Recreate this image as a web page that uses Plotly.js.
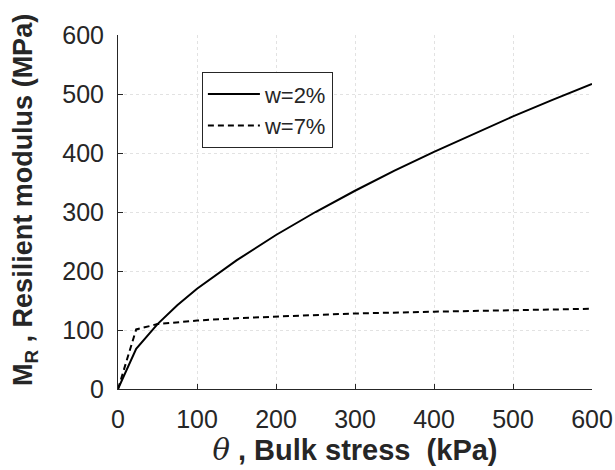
<!DOCTYPE html>
<html>
<head>
<meta charset="utf-8">
<script src="https://cdn.plot.ly/plotly-3.0.1.min.js"></script>
<style>html,body{margin:0;padding:0;background:#fff;}#chart{width:615px;height:470px;}</style>
</head>
<body>
<div id="chart"></div>
<script>
const seriesNames = ["w=2%", "w=7%"];
const thetaW2 = [0, 23, 50, 75, 100, 150, 200, 250, 300, 350, 400, 450, 500, 550, 600];
const modulusW2 = [0, 68, 110, 142, 170, 218, 261, 300, 336, 370, 402, 432, 462, 490, 517];
const thetaW7 = [0, 23, 50, 100, 150, 200, 300, 400, 500, 600];
const modulusW7 = [0, 101, 110, 116, 120, 123, 128, 131, 134, 136];
const xTicks = [0, 100, 200, 300, 400, 500, 600];
const yTicks = [0, 100, 200, 300, 400, 500, 600];
const yTitle = "M<sub>R</sub> , Resilient modulus (MPa)";

const FONT = "Liberation Sans, Arial, sans-serif";

const traces = [
  {x: thetaW2, y: modulusW2, name: seriesNames[0], mode: "lines", type: "scatter",
   line: {color: "#000000", width: 2}},
  {x: thetaW7, y: modulusW7, name: seriesNames[1], mode: "lines", type: "scatter",
   line: {color: "#000000", width: 2, dash: "6px,4px"}}
];

const axisCommon = {
  showline: true, linecolor: "#262626", linewidth: 1,
  ticks: "inside", ticklen: 5, tickcolor: "#262626",
  showgrid: true, gridcolor: "#e2e2e2", griddash: "dot", gridwidth: 1,
  zeroline: false, tickfont: {family: FONT, size: 25, color: "#262626"},
  ticklabelstandoff: 8,
  mirror: false, automargin: false
};

const layout = {
  width: 615, height: 470,
  margin: {l: 118, r: 23, t: 35, b: 81},
  paper_bgcolor: "#ffffff", plot_bgcolor: "#ffffff",
  showlegend: true,
  legend: {x: 0.177, y: 0.895, xanchor: "left", yanchor: "top",
    bgcolor: "#ffffff", bordercolor: "#262626", borderwidth: 1,
    font: {family: FONT, size: 22, color: "#262626"},
    itemwidth: 52, tracegroupgap: 0},
  xaxis: Object.assign({}, axisCommon, {
    range: [0, 600], tickvals: xTicks, ticktext: xTicks.map(String),
    title: {text: "<span style=\"font-family:'DejaVu Serif',serif;font-style:italic;font-weight:normal\">θ</span> , Bulk stress  (kPa)",
      font: {family: FONT, size: 29, color: "#262626", weight: "bold"}, standoff: 0}
  }),
  yaxis: Object.assign({}, axisCommon, {
    range: [0, 600], tickvals: yTicks, ticktext: yTicks.map(String)
  }),
  annotations: [{
    text: yTitle, xref: "paper", yref: "paper", x: -0.196, y: 0.534,
    xanchor: "center", yanchor: "middle", textangle: -90, showarrow: false,
    font: {family: FONT, size: 27, color: "#262626", weight: "bold"}
  }]
};

Plotly.newPlot("chart", traces, layout, {displayModeBar: false, staticPlot: true});
</script>
</body>
</html>
